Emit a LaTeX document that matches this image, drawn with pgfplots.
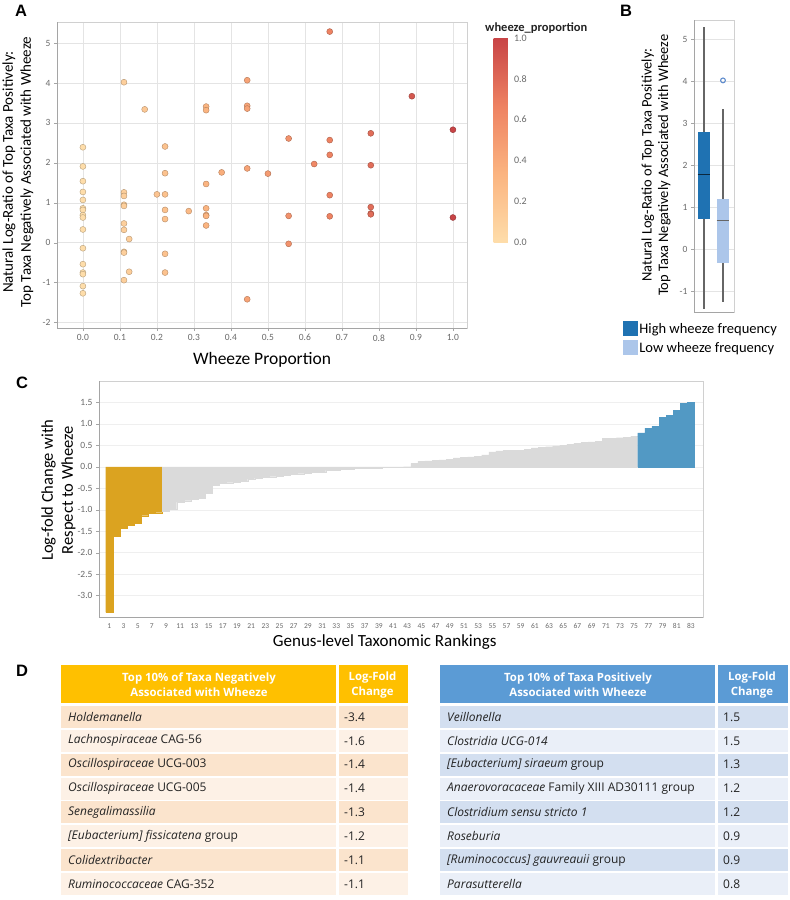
\documentclass[border=0pt]{standalone}
\usepackage{pgfplots}
\pgfplotsset{compat=1.18}
\usepgfplotslibrary{statistics}
\usepackage{fontspec}
\setmainfont{Carlito}
\newfontfamily\panelfont{Liberation Sans}
\newfontfamily\tabfont{Open Sans}

\definecolor{tickgray}{RGB}{105,105,105}
\definecolor{gridgray}{RGB}{228,228,228}
\definecolor{framegray}{RGB}{165,165,165}
\definecolor{hiblue}{RGB}{31,114,178}
\definecolor{loblue}{RGB}{172,198,234}
\definecolor{outblue}{RGB}{95,140,205}
\definecolor{barGold}{RGB}{219,163,32}
\definecolor{barGray}{RGB}{218,218,218}
\definecolor{barBlue}{RGB}{82,153,196}
\definecolor{hdGold}{RGB}{255,192,0}
\definecolor{rowGoldA}{RGB}{251,228,205}
\definecolor{rowGoldB}{RGB}{253,241,230}
\definecolor{hdBlue}{RGB}{91,155,213}
\definecolor{rowBlueA}{RGB}{211,223,240}
\definecolor{rowBlueB}{RGB}{234,239,248}
\definecolor{bodytext}{RGB}{35,35,35}

\pgfplotsset{
  colormap={wz}{rgb255=(254,221,170) rgb255=(251,180,128) rgb255=(238,130,98) rgb255=(200,68,70)},
  myaxis/.style={
    scale only axis,
    axis line style={gridgray!80!gray},
    tick style={framegray},
    tick align=outside,
    major tick length=3pt,
    tick pos=left,
    /pgf/number format/assume math mode=true,
    ticklabel style={font=\fontsize{9.5}{9.5}\selectfont, text=tickgray},
    major grid style={gridgray},
  },
}

\begin{document}
\begin{tikzpicture}[x=1pt,y=1pt]
\useasboundingbox (0,0) rectangle (790,-900);

% panel letters
\node[font=\panelfont\bfseries\fontsize{16.5}{16.5}\selectfont, anchor=base west, inner sep=0] at (15,-16) {A};
\node[font=\panelfont\bfseries\fontsize{16.5}{16.5}\selectfont, anchor=base west, inner sep=0] at (620,-16) {B};
\node[font=\panelfont\bfseries\fontsize{16.5}{16.5}\selectfont, anchor=base west, inner sep=0] at (16,-388) {C};
\node[font=\panelfont\bfseries\fontsize{16.5}{16.5}\selectfont, anchor=base west, inner sep=0] at (16,-676) {D};

% ---------------- Panel A ----------------
\begin{axis}[myaxis,
  at={(57pt,-328pt)}, anchor=south west,
  width=410pt, height=306pt,
  xmin=-0.07, xmax=1.038, ymin=-2.14, ymax=5.53,
  xtick={0,0.1,0.2,0.3,0.4,0.5,0.6,0.7,0.8,0.9,1.0},
  ytick={-2,-1,0,1,2,3,4,5},
  xticklabel style={/pgf/number format/.cd, fixed, fixed zerofill, precision=1},
  grid=major,
  xlabel={Wheeze Proportion},
  ylabel={Natural Log-Ratio of Top Taxa Positively:\\Top Taxa Negatively Associated with Wheeze},
  x label style={at={(axis description cs:0.5,-0.105)}, anchor=center, font=\fontsize{17.5}{19}\selectfont},
  y label style={at={(axis description cs:-0.095,0.51)}, anchor=center, align=center, font=\fontsize{15}{18}\selectfont},
  colormap name=wz,
  point meta min=0, point meta max=1,
  colorbar,
  colorbar style={
    at={(parent axis.north east)}, anchor=north west,
    xshift=18pt, yshift=-16pt,
    scale only axis, width=17pt, height=204pt,
    ytick={0,0.2,0.4,0.6,0.8,1},
    yticklabel pos=right,
    yticklabel style={font=\fontsize{10}{10}\selectfont, text=tickgray, /pgf/number format/.cd, fixed, fixed zerofill, precision=1, assume math mode=true},
    axis line style={draw=none},
    major tick length=0pt,
  },
]
\draw[framegray] (rel axis cs:0,1) -- (rel axis cs:0,0) -- (rel axis cs:1,0);
\addplot[scatter, only marks, mark=*, mark size=3pt, point meta=x,
  scatter/use mapped color={draw=mapped color!72!black, fill=mapped color}]
table {
x y
0 2.39
0 1.91
0 1.54
0 1.27
0 1.07
0 0.86
0 0.82
0 0.69
0 0.63
0 0.33
0 -0.14
0 -0.54
0 -0.75
0 -0.79
0 -1.09
0 -1.27
0.111 4.02
0.111 1.26
0.111 1.17
0.111 0.95
0.111 0.92
0.111 0.48
0.111 0.32
0.111 -0.23
0.111 -0.25
0.111 -0.94
0.125 0.09
0.125 -0.73
0.167 3.34
0.2 1.21
0.222 2.41
0.222 1.74
0.222 1.21
0.222 0.82
0.222 0.59
0.222 -0.28
0.222 -0.75
0.286 0.79
0.333 3.41
0.333 3.32
0.333 1.47
0.333 0.86
0.333 0.69
0.333 0.67
0.333 0.43
0.375 1.76
0.444 4.07
0.444 3.43
0.444 3.36
0.444 1.86
0.444 -1.42
0.5 1.73
0.556 2.61
0.556 0.67
0.556 -0.03
0.625 1.97
0.667 5.29
0.667 2.57
0.667 2.20
0.667 1.19
0.667 0.66
0.778 2.74
0.778 1.94
0.778 0.89
0.778 0.73
0.778 0.71
0.889 3.67
1.0 2.83
1.0 0.63
};
\end{axis}
\node[font=\bfseries\fontsize{12.5}{12.5}\selectfont, anchor=base west, inner sep=0, text=bodytext] at (485,-31) {wheeze\_proportion};

% ---------------- Panel B ----------------
\begin{axis}[myaxis,
  at={(694pt,-312pt)}, anchor=south west,
  width=40pt, height=292pt,
  xmin=0.474, xmax=2.58, ymin=-1.5, ymax=5.46,
  xtick=\empty, ytick={-1,0,1,2,3,4,5},
  ymajorgrids,
  boxplot/draw direction=y,
  ylabel={Natural Log-Ratio of Top Taxa Positively:\\Top Taxa Negatively Associated with Wheeze},
  y label style={at={(axis description cs:-0.95,0.503)}, anchor=center, align=center, font=\fontsize{14.5}{16.5}\selectfont},
  legend style={at={(axis description cs:-1.78,-0.03)}, anchor=north west, draw=none, fill=none,
    font=\fontsize{14.5}{15}\selectfont, row sep=3pt, inner sep=0pt, legend cell align=left},
]
\draw[framegray] (rel axis cs:0,1) -- (rel axis cs:0,0) -- (rel axis cs:1,0);
\addlegendimage{legend image code/.code={\fill[hiblue] (0pt,-6pt) rectangle (14pt,8pt);}}
\addlegendentry{High wheeze frequency}
\addlegendimage{legend image code/.code={\fill[loblue] (0pt,-6pt) rectangle (14pt,8pt);}}
\addlegendentry{Low wheeze frequency}
\addplot[forget plot,
  boxplot prepared={draw position=1, lower whisker=-1.42, lower quartile=0.72, median=1.78,
    upper quartile=2.78, upper whisker=5.29, box extend=0.68, whisker extend=0,
    every box/.style={draw=none, fill=hiblue},
    every whisker/.style={draw=black!60, line width=1.2pt},
    every median/.style={draw=black!65!hiblue, line width=1.3pt}},
  draw=none] coordinates {};
\addplot[forget plot,
  boxplot prepared={draw position=2, lower whisker=-1.27, lower quartile=-0.34, median=0.68,
    upper quartile=1.20, upper whisker=3.34, box extend=0.68, whisker extend=0,
    every box/.style={draw=none, fill=loblue},
    every whisker/.style={draw=black!60, line width=1.2pt},
    every median/.style={draw=black!60, line width=1.3pt}},
  draw=none, mark=o, mark size=2.4pt, mark options={draw=outblue, line width=1.1pt}]
  coordinates {(2,4.02)};
\end{axis}

% ---------------- Panel C ----------------
\begin{axis}[myaxis,
  at={(99pt,-617pt)}, anchor=south west,
  width=604pt, height=236pt,
  xmin=-0.45, xmax=84.7, ymin=-3.5, ymax=2.0,
  ytick={-3,-2.5,-2,-1.5,-1,-0.5,0,0.5,1,1.5},
  xtick={1,3,...,83},
  yticklabel style={/pgf/number format/.cd, fixed, fixed zerofill, precision=1},
  xticklabel style={font=\fontsize{7.5}{7.5}\selectfont},
  x tick style={draw=none},
  ymajorgrids,
  major grid style={gridgray!60!white},
  xlabel={Genus-level Taxonomic Rankings},
  ylabel={Log-fold Change with\\Respect to Wheeze},
  x label style={at={(axis description cs:0.473,-0.106)}, anchor=center, font=\fontsize{17}{18}\selectfont},
  y label style={at={(axis description cs:-0.067,0.538)}, anchor=center, align=center, font=\fontsize{16.5}{20}\selectfont},
]
\draw[framegray] (rel axis cs:0,1) -- (rel axis cs:0,0) -- (rel axis cs:1,0);
\addplot[ybar, bar width=1, bar shift=0pt, fill=barGold, draw=barGold, line width=0.2pt] table {
x y
1 -3.39
2 -1.61
3 -1.43
4 -1.36
5 -1.31
6 -1.14
7 -1.08
8 -1.07
};
\addplot[ybar, bar width=1, bar shift=0pt, fill=barGray, draw=barGray, line width=0.2pt] table {
x y
9 -1.03
10 -0.98
11 -0.82
12 -0.79
13 -0.76
14 -0.74
15 -0.62
16 -0.42
17 -0.38
18 -0.37
19 -0.35
20 -0.33
21 -0.28
22 -0.26
23 -0.25
24 -0.23
25 -0.21
26 -0.20
27 -0.17
28 -0.16
29 -0.15
30 -0.13
31 -0.12
32 -0.08
33 -0.07
34 -0.06
35 -0.05
36 -0.04
37 -0.03
38 -0.02
39 -0.02
40 -0.01
41 -0.01
42 -0.005
43 0.005
44 0.08
45 0.13
46 0.14
47 0.15
48 0.16
49 0.18
50 0.21
51 0.22
52 0.23
53 0.25
54 0.28
55 0.35
56 0.37
57 0.38
58 0.38
59 0.39
60 0.41
61 0.44
62 0.45
63 0.47
64 0.49
65 0.50
66 0.53
67 0.55
68 0.57
69 0.58
70 0.60
71 0.66
72 0.67
73 0.68
74 0.69
75 0.71
};
\addplot[ybar, bar width=1, bar shift=0pt, fill=barBlue, draw=barBlue, line width=0.2pt] table {
x y
76 0.79
77 0.90
78 0.94
79 1.16
80 1.20
81 1.32
82 1.48
83 1.51
};
\end{axis}

% ---------------- Panel D (tables) ----------------
% left table
\fill[hdGold] (61,-665) rectangle (408,-703);
\node[font=\tabfont\bfseries\fontsize{11.4}{15}\selectfont, text=white, align=center] at (199,-685) {Top 10\% of Taxa Negatively\\Associated with Wheeze};
\node[font=\tabfont\bfseries\fontsize{11.4}{15}\selectfont, text=white, align=center] at (372.5,-685) {Log-Fold\\Change};
\foreach \i/\nm/\v in {
  1/{\textit{Holdemanella}}/-3.4,
  2/{\textit{Lachnospiraceae} CAG-56}/-1.6,
  3/{\textit{Oscillospiraceae} UCG-003}/-1.4,
  4/{\textit{Oscillospiraceae} UCG-005}/-1.4,
  5/{\textit{Senegalimassilia}}/-1.3,
  6/{\textit{[Eubacterium] fissicatena} group}/-1.2,
  7/{\textit{Colidextribacter}}/-1.1,
  8/{\textit{Ruminococcaceae} CAG-352}/-1.1}{
  \pgfmathsetmacro{\yt}{-706-23.85*(\i-1)}
  \pgfmathtruncatemacro{\odd}{mod(\i,2)}
  \ifnum\odd=1 \fill[rowGoldA] (61,\yt) rectangle (408,\yt-22);
  \else \fill[rowGoldB] (61,\yt) rectangle (408,\yt-22); \fi
  \node[font=\tabfont\fontsize{12}{14}\selectfont, text=bodytext, anchor=west, inner sep=0] at (68,\yt-11) {\nm};
  \node[font=\tabfont\fontsize{12}{14}\selectfont, text=bodytext, anchor=west, inner sep=0] at (344,\yt-11) {\v};
}
\fill[white] (336,-665) rectangle (338.5,-900);

% right table
\fill[hdBlue] (440,-665) rectangle (788,-703);
\node[font=\tabfont\bfseries\fontsize{11.4}{15}\selectfont, text=white, align=center] at (578,-685) {Top 10\% of Taxa Positively\\Associated with Wheeze};
\node[font=\tabfont\bfseries\fontsize{11.4}{15}\selectfont, text=white, align=center] at (752,-685) {Log-Fold\\Change};
\foreach \i/\nm/\v in {
  1/{\textit{Veillonella}}/1.5,
  2/{\textit{Clostridia UCG-014}}/1.5,
  3/{\textit{[Eubacterium] siraeum} group}/1.3,
  4/{\textit{Anaerovoracaceae} Family XIII AD30111 group}/1.2,
  5/{\textit{Clostridium sensu stricto 1}}/1.2,
  6/{\textit{Roseburia}}/0.9,
  7/{\textit{[Ruminococcus] gauvreauii} group}/0.9,
  8/{\textit{Parasutterella}}/0.8}{
  \pgfmathsetmacro{\yt}{-706-23.85*(\i-1)}
  \pgfmathtruncatemacro{\odd}{mod(\i,2)}
  \ifnum\odd=1 \fill[rowBlueA] (440,\yt) rectangle (788,\yt-22);
  \else \fill[rowBlueB] (440,\yt) rectangle (788,\yt-22); \fi
  \node[font=\tabfont\fontsize{12}{14}\selectfont, text=bodytext, anchor=west, inner sep=0] at (447,\yt-11) {\nm};
  \node[font=\tabfont\fontsize{12}{14}\selectfont, text=bodytext, anchor=west, inner sep=0] at (723,\yt-11) {\v};
}
\fill[white] (715,-665) rectangle (717.5,-900);

\end{tikzpicture}
\end{document}
